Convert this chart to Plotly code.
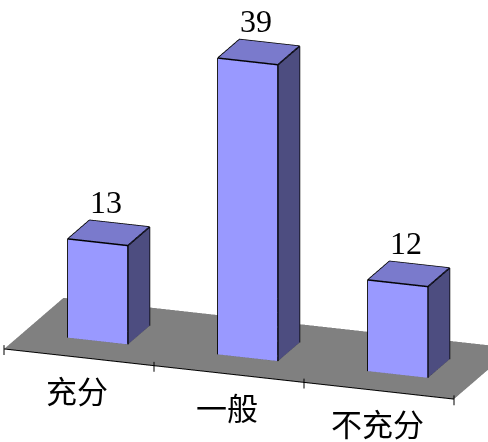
import plotly.graph_objects as go

categories = ['充分', '一般', '不充分']
values = [13, 39, 12]

front_col = '#9999FF'
top_col = '#7A7ACC'
side_col = '#4D4D80'
floor_col = '#808080'

bw = 0.4            # bar width (category units)
bd = 0.4            # bar depth
fd = 1.1            # floor depth
yb0 = 0.35          # bar front position in depth
zmin, zmax = -1.0, 45.0

xs, ys, zs, I, J, K, fc = [], [], [], [], [], [], []

def add_quad(p, col):
    n = len(xs)
    for (a, b, c) in p:
        xs.append(a); ys.append(b); zs.append(c)
    I.extend([n, n]); J.extend([n + 1, n + 2]); K.extend([n + 2, n + 3])
    fc.extend([col, col])

nc = len(categories)
add_quad([(0, 0, 0), (nc, 0, 0), (nc, fd, 0), (0, fd, 0)], floor_col)

ex, ey, ez = [], [], []
def add_line(pts):
    for (a, b, c) in pts:
        ex.append(a); ey.append(b); ez.append(c)
    ex.append(None); ey.append(None); ez.append(None)

for i, v in enumerate(values):
    x0, x1 = i + 0.5 - bw / 2, i + 0.5 + bw / 2
    y0, y1 = yb0, yb0 + bd
    add_quad([(x0, y0, 0), (x1, y0, 0), (x1, y0, v), (x0, y0, v)], front_col)
    add_quad([(x0, y0, v), (x1, y0, v), (x1, y1, v), (x0, y1, v)], top_col)
    add_quad([(x1, y0, 0), (x1, y1, 0), (x1, y1, v), (x1, y0, v)], side_col)
    add_line([(x0, y0, 0), (x1, y0, 0), (x1, y0, v), (x0, y0, v), (x0, y0, 0)])
    add_line([(x0, y0, v), (x0, y1, v), (x1, y1, v), (x1, y0, v)])
    add_line([(x1, y0, 0), (x1, y1, 0), (x1, y1, v)])

fig = go.Figure()
fig.add_trace(go.Mesh3d(x=xs, y=ys, z=zs, i=I, j=J, k=K, facecolor=fc,
                        flatshading=True,
                        lighting=dict(ambient=1, diffuse=0, specular=0, roughness=1, fresnel=0),
                        hoverinfo='skip', showscale=False))
fig.add_trace(go.Scatter3d(x=ex, y=ey, z=ez, mode='lines',
                           line=dict(color='black', width=3), hoverinfo='skip'))
ax_x, ax_y, ax_z = [0, nc, None], [0, 0, None], [0, 0, None]
for t in range(nc + 1):
    ax_x += [t, t, None]; ax_y += [0, 0, None]; ax_z += [0.5, -0.8, None]
fig.add_trace(go.Scatter3d(x=ax_x, y=ax_y, z=ax_z, mode='lines',
                           line=dict(color='black', width=2), hoverinfo='skip'))

annots = []
for i, v in enumerate(values):
    annots.append(dict(x=i + 0.5, y=yb0 + bd / 2, z=v, text=str(v), showarrow=False,
                       yanchor='middle', yshift=31, xshift=-3,
                       font=dict(family='Liberation Serif', size=32, color='black')))
for i, c in enumerate(categories):
    annots.append(dict(x=i + 0.5, y=0, z=0, text=c, showarrow=False,
                       yanchor='middle', yshift=-32, xshift=-2,
                       font=dict(family='Noto Sans CJK SC', size=31, color='black')))

# camera (orthographic): yaw ~19.8 deg, pitch ~18 deg
dirv = (0.322, -0.895, 0.31)
cen = (-0.0438, -0.0750, -0.1708)
R = 2.5
eye = tuple(cen[j] + R * dirv[j] for j in range(3))

ux = 0.7213     # normalized length per category unit
uz = 0.03616    # normalized length per value unit
noax = dict(visible=False, showspikes=False)
fig.update_layout(
    width=488, height=442,
    margin=dict(l=0, r=0, t=0, b=0),
    paper_bgcolor='white',
    showlegend=False,
    scene=dict(
        domain=dict(x=[0, 1], y=[0, 1]),
        xaxis=dict(range=[0, nc], **noax),
        yaxis=dict(range=[0, fd], **noax),
        zaxis=dict(range=[zmin, zmax], **noax),
        aspectmode='manual',
        aspectratio=dict(x=nc * ux, y=fd * ux, z=(zmax - zmin) * uz),
        camera=dict(projection=dict(type='orthographic'),
                    up=dict(x=0, y=0, z=1),
                    center=dict(x=cen[0], y=cen[1], z=cen[2]),
                    eye=dict(x=eye[0], y=eye[1], z=eye[2])),
        annotations=annots,
        bgcolor='white',
    ),
)
fig.write_html('out.html')
